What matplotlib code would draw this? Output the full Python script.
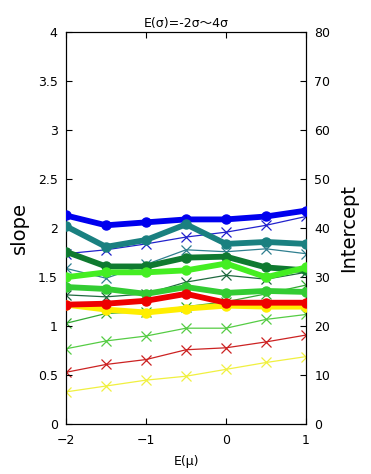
import matplotlib
matplotlib.use("Agg")
import matplotlib.pyplot as plt

plt.rcParams['font.family'] = ['DejaVu Sans', 'Noto Sans CJK JP']

mu = [-2, -1.5, -1, -0.5, 0, 0.5, 1]

# slope (thick lines, left axis)
slope_blue = [2.13, 2.03, 2.06, 2.09, 2.09, 2.12, 2.18]
slope_teal = [2.02, 1.81, 1.88, 2.04, 1.84, 1.86, 1.84]
slope_dkgreen = [1.76, 1.61, 1.61, 1.70, 1.71, 1.60, 1.57]
slope_lime = [1.50, 1.55, 1.55, 1.57, 1.64, 1.50, 1.60]
slope_green = [1.40, 1.38, 1.33, 1.40, 1.34, 1.36, 1.35]
slope_red = [1.22, 1.23, 1.26, 1.33, 1.24, 1.24, 1.24]
slope_yellow = [1.22, 1.17, 1.14, 1.18, 1.21, 1.20, 1.20]

# intercept (thin lines, right axis)
icpt_blue = [34.8, 35.6, 36.8, 38.2, 39.2, 40.6, 42.4]
icpt_teal = [31.8, 29.8, 32.6, 35.6, 35.2, 35.8, 34.8]
icpt_dkgreen = [26.4, 26.0, 26.6, 29.0, 30.4, 29.6, 31.0]
icpt_green = [20.6, 22.6, 23.0, 24.0, 25.0, 26.6, 28.4]
icpt_ltgreen = [15.4, 17.0, 18.0, 19.6, 19.6, 21.4, 22.4]
icpt_red = [10.6, 12.2, 13.2, 15.2, 15.6, 16.8, 18.2]
icpt_yellow = [6.6, 7.8, 9.0, 9.8, 11.2, 12.6, 13.8]

fig = plt.figure(figsize=(3.71, 4.74), dpi=100)
ax = fig.add_axes([0.178, 0.105, 0.647, 0.827])
ax2 = ax.twinx()

thin = [(icpt_yellow, '#f0f040'), (icpt_red, '#cc2222'), (icpt_ltgreen, '#55cc44'),
        (icpt_green, '#33aa33'), (icpt_dkgreen, '#1f6a40'), (icpt_teal, '#2f7f8f'),
        (icpt_blue, '#2222cc')]
for vals, c in thin:
    ax2.plot(mu, vals, color=c, lw=0.9, marker='x', ms=7, mew=0.9)

thick = [(slope_blue, '#0000ee'), (slope_teal, '#1a8080'), (slope_dkgreen, '#0f7a30'),
         (slope_lime, '#44ee22'), (slope_yellow, '#ffee00'), (slope_green, '#33cc33'),
         (slope_red, '#ee0000')]
for vals, c in thick:
    ax.plot(mu, vals, color=c, lw=4.2, marker='o', ms=6.5, zorder=3)

ax.set_zorder(ax2.get_zorder() + 1)
ax.patch.set_visible(False)

ax.set_xlim(-2, 1)
ax.set_ylim(0, 4)
ax2.set_ylim(0, 80)
ax.set_xticks([-2, -1, 0, 1])
ax.set_yticks([0, 0.5, 1, 1.5, 2, 2.5, 3, 3.5, 4])
ax.set_yticklabels(['0', '0.5', '1', '1.5', '2', '2.5', '3', '3.5', '4'])
ax2.set_yticks(range(0, 81, 10))
ax.tick_params(direction='in', labelsize=9, top=True, length=4)
ax.tick_params(axis='x', pad=7)
ax.tick_params(axis='y', pad=6)
ax2.tick_params(direction='in', labelsize=9, length=4, pad=6)

ax.set_xlabel('E(μ)', fontsize=9, labelpad=6)
ax.set_ylabel('slope', fontsize=14, labelpad=6)
ax2.set_ylabel('Intercept', fontsize=14, labelpad=6)
ax.set_title('E(σ)=-2σ〜4σ', fontsize=9, pad=4)

fig.savefig('out.png', dpi=100)
